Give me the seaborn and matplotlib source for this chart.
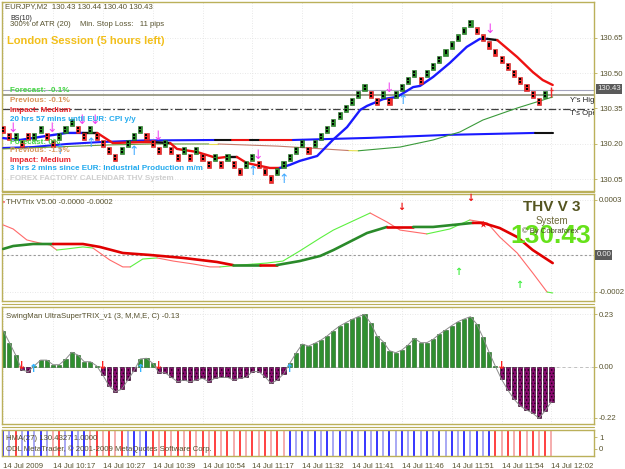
import matplotlib
matplotlib.use("Agg")
import matplotlib.pyplot as plt
import seaborn as sns
import numpy as np
from matplotlib.lines import Line2D

# ---------------- data ----------------
# price bricks (centre price of each 3-pip body) for bars 0..87, bar 88 is the forming bar
brick_mid = [
    130.26, 130.23, 130.23, 130.20, 130.23, 130.23, 130.26, 130.23, 130.20, 130.23,
    130.26, 130.29, 130.26, 130.23, 130.26, 130.23, 130.20, 130.17, 130.14, 130.17,
    130.20, 130.23, 130.26, 130.23, 130.20, 130.17, 130.20, 130.17, 130.14, 130.17,
    130.14, 130.17, 130.14, 130.11, 130.14, 130.11, 130.14, 130.11, 130.08, 130.11,
    130.14, 130.11, 130.08, 130.05, 130.08, 130.11, 130.14, 130.17, 130.20, 130.17,
    130.20, 130.23, 130.26, 130.29, 130.32, 130.35, 130.38, 130.41, 130.44, 130.41,
    130.38, 130.41, 130.38, 130.41, 130.44, 130.47, 130.50, 130.47, 130.50, 130.53,
    130.56, 130.59, 130.62, 130.65, 130.68, 130.71, 130.68, 130.65, 130.62, 130.59,
    130.56, 130.53, 130.50, 130.47, 130.44, 130.41, 130.38, 130.41]
brick_dir = list("RRGRRGGRRG" "GGRRGRRRRG" "GGGRRRGRRG" "RGRRGRGRRG" "GRRRGGGGGR"
                 "GGGGGGGGGR" "RGRGGGGRGG" "GGGGGGRRRR" "RRRRRRRG")
last_bar = 88
last_low, last_high, last_price = 130.40, 130.44, 130.43

# fast MA (bar, price, colour code of segment starting here)
fast_x = [0.0, 2.7, 5.9, 10.2, 12.8, 15.1, 17.6, 22.0, 24.0, 26.8, 27.9, 31.1, 34.3, 35.9, 37.5,
          39.1, 42.8, 44.4, 46.0, 47.6, 50.4, 52.9, 55.2, 57.3, 58.4, 61.0, 63.2, 65.8, 66.9,
          69.0, 71.7, 74.4, 76.5, 77.7, 79.3, 82.5, 85.0, 86.6, 88.2]
fast_y = [130.224, 130.216, 130.229, 130.246, 130.246, 130.246, 130.203, 130.207, 130.207,
          130.203, 130.178, 130.165, 130.139, 130.144, 130.144, 130.118, 130.097, 130.097,
          130.110, 130.127, 130.148, 130.216, 130.271, 130.344, 130.361, 130.390, 130.399,
          130.441, 130.446, 130.484, 130.544, 130.612, 130.646, 130.646, 130.641, 130.569,
          130.505, 130.471, 130.450]
fast_c = list("bbbbkrrrkrrrrkrrrbbbbbbbbbbbbbbbbkrrrrr")

slow_x = [0.0, 4.8, 10.2, 15.5, 22.4, 34.0, 36.7, 39.6, 41.2, 46.5, 58.9, 71.7, 85.4, 88.2]
slow_y = [130.182, 130.186, 130.199, 130.207, 130.214, 130.216, 130.216, 130.216, 130.216,
          130.216, 130.225, 130.238, 130.246, 130.246]
slow_c = list("bbbbbkrkrbbbkk")

thin_x = [0.0, 17.0, 24.0, 33.0, 34.5, 44.0, 49.0, 55.5, 57.0, 63.7, 69.0, 73.3, 77.0, 82.5, 88.2]
thin_y = [130.178, 130.195, 130.199, 130.199, 130.199, 130.190, 130.182, 130.171, 130.170,
          130.186, 130.216, 130.250, 130.301, 130.352, 130.399]
thin_c = list("oooypppyggggggg")

price_ticks = [130.05, 130.20, 130.35, 130.50, 130.65]
bid_price, yhigh_price, topen_price = 130.43, 130.407, 130.348

main_dn_x = [1.6, 7.8, 12.6, 14.7, 24.8, 40.9, 61.9, 78.1]
main_dn_y = [130.267, 130.267, 130.301, 130.301, 130.229, 130.148, 130.437, 130.684]
main_up_x = [9.1, 14.1, 21.0, 40.1, 45.1, 64.2]
main_up_y = [130.173, 130.203, 130.165, 130.080, 130.046, 130.386]

# THV Trix (values in units of 1e-4)
thv_thick_x = [0.0, 1.6, 4.8, 8.0, 12.8, 15.5, 19.2, 23.6, 28.9, 34.3, 36.9, 41.2, 43.9, 44.9,
               47.6, 50.9, 53.0, 58.4, 61.6, 65.8, 69.0, 75.4, 77.0, 79.7, 82.5, 85.0, 88.2]
thv_thick_y = [0.33, 0.49, 0.60, 0.60, 0.60, 0.44, 0.11, 0.00, -0.16, -0.38, -0.55, -0.55, -0.55,
               -0.49, -0.33, -0.05, 0.27, 1.20, 1.53, 1.53, 1.53, 1.75, 1.75, 1.47, 0.98, 0.27, -0.44]
thv_thick_c = list("gggrrrrrrrgrggggggrggrrrrrr")
thv_thin_x = [0.0, 1.6, 3.8, 5.9, 7.5, 8.6, 10.2, 12.8, 14.4, 17.1, 19.2, 20.4, 22.4, 24.7, 27.3,
              30.5, 33.2, 34.8, 38.0, 42.3, 44.9, 47.6, 50.9, 53.0, 58.9, 61.6, 63.7, 68.0, 71.7,
              74.9, 77.7, 79.7, 82.5, 85.0, 87.3, 88.2]
thv_thin_y = [1.64, 1.42, 0.82, 0.65, 0.55, 0.27, 0.33, 0.44, 0.38, -0.27, -0.65, -0.65, -0.22,
              -0.16, -0.33, -0.49, -0.65, -0.65, -0.55, -0.44, -0.33, 0.22, 0.93, 1.36, 2.29,
              1.80, 1.36, 1.15, 1.42, 1.91, 1.75, 0.98, 0.11, -0.98, -2.02, -2.07]
thv_thin_c = list("rrrrrgggrrrggrrrrgggggggrrrggrrrrrgg")
thv_dn_x, thv_dn_y = [63.9, 74.9], [2.62, 3.10]
thv_up_x, thv_up_y = [73.0, 82.9], [-0.93, -1.64]
thv_star_x, thv_star_y = [77.0], [1.69]

# SwingMan UltraSuperTRIX histogram
swing_vals = [
    0.158, 0.106, 0.052, -0.013, -0.020, 0.005, 0.030, 0.030, 0.010, 0.010,
    0.033, 0.064, 0.052, 0.023, 0.023, 0.005, -0.035, -0.083, -0.107, -0.097,
    -0.057, -0.016, 0.035, 0.038, 0.016, -0.025, -0.025, -0.045, -0.064, -0.057,
    -0.064, -0.057, -0.049, -0.064, -0.049, -0.045, -0.045, -0.057, -0.049, -0.045,
    -0.020, -0.020, -0.042, -0.071, -0.057, -0.030, 0.016, 0.060, 0.100, 0.091,
    0.103, 0.117, 0.135, 0.158, 0.178, 0.193, 0.207, 0.219, 0.229, 0.190,
    0.135, 0.110, 0.071, 0.062, 0.074, 0.096, 0.125, 0.106, 0.106, 0.120,
    0.143, 0.161, 0.180, 0.197, 0.209, 0.219, 0.187, 0.129, 0.064, 0.003,
    -0.054, -0.100, -0.140, -0.170, -0.187, -0.201, -0.223, -0.190, -0.151]
sw_dn_x = [2.9, 16.0, 25.0, 80.0]
sw_up_x = [4.9, 22.0, 46.0]

# HMA colour strip
strip_codes = list("BbRbBbBbrR" "bBbBrRrRrR" "bBbBRrRrRr" "RrRrRrRrRr" "RrRrRrBbBb"
                   "BbBbBbBbBb" "BbBbBbBbBb" "BbBbBbBbBR" "rRrRrRrRr")

xtick_labels = ["14 Jul 2009", "14 Jul 10:17", "14 Jul 10:27", "14 Jul 10:39", "14 Jul 10:54",
                "14 Jul 11:17", "14 Jul 11:32", "14 Jul 11:41", "14 Jul 11:46", "14 Jul 11:51",
                "14 Jul 11:54", "14 Jul 12:02"]

# ---------------- style ----------------
sns.set_style("white")
plt.rcParams['font.family'] = ['Liberation Sans', 'DejaVu Sans']
plt.rcParams['hatch.linewidth'] = 0.7

W, H = 625, 469
fig = plt.figure(figsize=(W / 100, H / 100), dpi=100)
fig.patch.set_facecolor('white')

GOLD = '#bbb05a'
TXT = '#57522e'
GRID = '#e0e0e0'
GREEN, GREEN_E = '#2b8f2b', '#1d661d'
RED, RED_E = '#f22a2a', '#c41a1a'


def box(top, bottom, left=2, right=594):
    return [left / W, 1 - bottom / H, (right - left) / W, (bottom - top) / H]


def ptext(x, y, s, **kw):
    kw.setdefault('va', 'center')
    kw.setdefault('ha', 'left')
    return fig.text(x / W, 1 - y / H, s, **kw)


def colored_line(ax, xs, ys, codes, cmap, lw, z=3):
    n = len(xs)
    i = 0
    while i < n - 1:
        j = i
        while j + 1 < n - 1 and codes[j + 1] == codes[i]:
            j += 1
        sns.lineplot(x=xs[i:j + 2], y=ys[i:j + 2], ax=ax, color=cmap[codes[i]], lw=lw,
                     sort=False, estimator=None, legend=False, zorder=z,
                     solid_capstyle='round')
        i = j + 1


ax_main = fig.add_axes(box(2, 191))
ax_thv = fig.add_axes(box(194, 301))
ax_sw = fig.add_axes(box(307, 424))
ax_st = fig.add_axes(box(430, 456))
axes = [ax_main, ax_thv, ax_sw, ax_st]
XLIM = (-0.19, 94.83)
tick_bars = list(range(0, 89, 8))

for ax in axes:
    ax.set_facecolor('white')
    ax.set_xlim(*XLIM)
    for sp in ax.spines.values():
        sp.set_color(GOLD)
        sp.set_linewidth(1.0)
    ax.yaxis.tick_right()
    ax.tick_params(axis='y', length=2, width=0.6, pad=1.5, labelsize=5.6,
                   color=GOLD, labelcolor=TXT)
    ax.set_xticks(tick_bars)
    ax.tick_params(axis='x', length=0, labelbottom=False)
    ax.grid(True, color=GRID, ls=(0, (1, 2)), lw=0.6)
    ax.set_axisbelow(True)
    ax.set_xlabel('')
    ax.set_ylabel('')

# ---------------- main price panel ----------------
ax_main.set_ylim(129.999, 130.803)
ax_main.set_yticks(price_ticks)
ax_main.set_yticklabels([f'{v:.2f}' for v in price_ticks])
ax_main.axhline(bid_price, color='#a4a4bc', lw=0.8, zorder=1)
ax_main.axhline(yhigh_price, color='#8f8f78', lw=1.2, zorder=1)
ax_main.axhline(topen_price, color='#404040', lw=0.9, dashes=(6, 2, 1.5, 2), zorder=1)

colored_line(ax_main, slow_x, slow_y, slow_c, {'b': '#1a1aff', 'k': '#111111', 'r': '#ee1111'}, 1.5)
colored_line(ax_main, thin_x, thin_y, thin_c,
             {'o': '#6a9a3a', 'y': '#e8e050', 'p': '#c47a6a', 'g': '#3a9a3a'}, 0.8)
colored_line(ax_main, fast_x, fast_y, fast_c, {'b': '#1a1aff', 'k': '#111111', 'r': '#ee1111'}, 1.7)

mids = np.array(brick_mid)
bx = np.arange(len(mids))
fc = [GREEN if d == 'G' else RED for d in brick_dir]
ec = [GREEN_E if d == 'G' else RED_E for d in brick_dir]
ax_main.bar(bx, 0.03, bottom=mids - 0.015, width=0.66, color=fc, edgecolor=ec,
            linewidth=0.4, zorder=4)
sns.scatterplot(x=np.r_[bx, bx], y=np.r_[mids + 0.006, mids - 0.006], s=1.6, color='black',
                marker='s', linewidth=0, ax=ax_main, zorder=5, legend=False)
ax_main.vlines(last_bar, last_low, last_high, color=RED, lw=1.0, zorder=4)
ax_main.hlines(last_price, last_bar - 0.3, last_bar + 0.3, color=RED, lw=1.0, zorder=4)

for x, y in zip(main_dn_x, main_dn_y):
    ax_main.text(x, y, '↓', ha='center', va='center', color='#f040f0', fontsize=9,
                 family='DejaVu Sans', zorder=6)
for x, y in zip(main_up_x, main_up_y):
    ax_main.text(x, y, '↑', ha='center', va='center', color='#3fa9ff', fontsize=9,
                 family='DejaVu Sans', zorder=6)

ax_main.text(91.0, 130.386, "Y's High", fontsize=5.6, color='#222222', va='center',
             clip_on=True, zorder=6)
ax_main.text(91.0, 130.327, "T's Open", fontsize=5.6, color='#222222', va='center',
             clip_on=True, zorder=6)

ptext(597, 89, '130.43', fontsize=5.6, color='#f0f0f0',
      bbox=dict(boxstyle='square,pad=0.15', fc='#5a5a5a', ec='none'))

ptext(5, 7, 'EURJPY,M2  130.43 130.44 130.40 130.43', fontsize=5.6, color=TXT)
ptext(10, 19, 'BS(10)', fontsize=5, color='#222222')
ptext(10, 25, '300% of ATR (20)', fontsize=5.6, color=TXT)
ptext(80, 25, 'Min. Stop Loss:   11 pips', fontsize=5.6, color=TXT)
ptext(7, 41, 'London Session (5 hours left)', fontsize=8, fontweight='bold', color='#f2bf1a')

cal = [(90, 'Forecast: -0.1%', '#44d444'),
       (100, 'Previous: -0.1%', '#d9955a'),
       (110, 'Impact: Medium', '#e8242c'),
       (119, '20 hrs 57 mins until EUR: CPI y/y', '#22aaee'),
       (142, 'Forecast: 0%', '#44d444'),
       (151, 'Previous: -1.5%', '#d9955a'),
       (160, 'Impact: Medium', '#e8242c'),
       (169, '3 hrs 2 mins since EUR: Industrial Production m/m', '#22aaee'),
       (178, 'FOREX FACTORY CALENDAR THV System', '#cfcfcf')]
for y, s, c in cal:
    ptext(10, y, s, fontsize=5.8, fontweight='bold', color=c, zorder=7)

# ---------------- THV Trix panel ----------------
ax_thv.set_ylim(-2.509, 3.327)
ax_thv.set_yticks([3, 0, -2])
ax_thv.set_yticklabels(['0.0003', '', '-0.0002'])
ax_thv.axhline(0, color='#9a9a9a', lw=0.8, ls=(0, (2, 2)), zorder=1)
colored_line(ax_thv, thv_thin_x, thv_thin_y, thv_thin_c, {'g': '#5cf040', 'r': '#ff6a6a'}, 0.8)
colored_line(ax_thv, thv_thick_x, thv_thick_y, thv_thick_c, {'g': '#2a8a2a', 'r': '#e00000'}, 1.9, z=4)
for x, y in zip(thv_dn_x, thv_dn_y):
    ax_thv.text(x, y, '↓', ha='center', va='center', color='#ee1111', fontsize=7,
                fontweight='bold', family='DejaVu Sans', zorder=6)
for x, y in zip(thv_up_x, thv_up_y):
    ax_thv.text(x, y, '↑', ha='center', va='center', color='#44ee44', fontsize=7,
                fontweight='bold', family='DejaVu Sans', zorder=6)
sns.scatterplot(x=thv_star_x, y=thv_star_y, marker='*', s=30, color='#ee1111', linewidth=0,
                ax=ax_thv, zorder=6, legend=False)
ax_thv.text(1.004, 0, '0.00', transform=ax_thv.get_yaxis_transform(), fontsize=5.6,
            color='#f0f0f0', va='center', ha='left', clip_on=False,
            bbox=dict(boxstyle='square,pad=0.15', fc='#5a5a5a', ec='none'))

ptext(6, 203, 'THVTrix V5.00 -0.0000 -0.0002', fontsize=5.6, color=TXT)
ptext(3, 204, "'", fontsize=6, color='#ee1111', fontweight='bold')
ptext(552, 207, 'THV V 3', fontsize=11, fontweight='bold', color='#545420', ha='center')
ptext(552, 221, 'System', fontsize=7, color='#6e6a3c', ha='center')
ptext(551, 236, '130.43', fontsize=19, fontweight='bold', color='#66e21a', ha='center', zorder=8)
ptext(550, 231, '© By Cobraforex', fontsize=5.5, color='#4a4a28', ha='center', zorder=9)

# ---------------- SwingMan panel ----------------
ax_sw.set_ylim(-0.248, 0.261)
ax_sw.set_yticks([0.23, 0.0, -0.22])
ax_sw.set_yticklabels(['0.23', '0.00', '-0.22'])
ax_sw.axhline(0, color='#c0c0c0', lw=0.7, ls=(0, (3, 3)), zorder=1)
sw = np.array(swing_vals)
sx = np.arange(len(sw))
bars = ax_sw.bar(sx, sw, width=0.66, color=['#2f8f2f' if v >= 0 else '#8a0a70' for v in sw],
                 edgecolor=['#1f5f1f' if v >= 0 else '#200018' for v in sw], linewidth=0.4, zorder=2)
for b, v in zip(bars, sw):
    if v < 0:
        b.set_hatch('.....')
sns.lineplot(x=sx, y=sw, ax=ax_sw, color='#8c8c8c', lw=0.7, sort=False, estimator=None,
             legend=False, zorder=3)
for x in sw_dn_x:
    ax_sw.text(x, 0.004, '↓', ha='center', va='center', color='#ff2020', fontsize=8,
               fontweight='bold', family='DejaVu Sans', zorder=6)
for x in sw_up_x:
    ax_sw.text(x, -0.009, '↑', ha='center', va='center', color='#33b4ff', fontsize=8,
               fontweight='bold', family='DejaVu Sans', zorder=6)
ptext(6, 316, 'SwingMan UltraSuperTRIX_v1 (3, M,M,E, C) -0.13', fontsize=5.6, color=TXT)

# ---------------- HMA strip ----------------
ax_st.grid(False)
ax_st.set_ylim(-0.61, 1.65)
ax_st.set_yticks([1, 0])
ax_st.set_yticklabels(['1', '0'])
cmap_strip = {'B': '#1414ff', 'b': '#9a9af2', 'R': '#ff2020', 'r': '#f4a0a0'}
ax_st.vlines(np.arange(len(strip_codes)), -1, 2, colors=[cmap_strip[c] for c in strip_codes],
             lw=1.2, zorder=2)
ptext(6, 438, 'HMA(27) 130.4327 1.0000', fontsize=5.6, color=TXT, zorder=7)
ptext(6, 449, 'ODL MetaTrader, © 2001-2009 MetaQuotes Software Corp.', fontsize=5.6,
      color=TXT, zorder=7)
ax_st.tick_params(axis='x', length=3, width=0.6, color=TXT, labelbottom=True,
                  labelsize=5.6, labelcolor=TXT, pad=2)
ax_st.set_xticklabels(xtick_labels, ha='left')

# ---------------- panel separators ----------------
for y in (192.5, 304.0, 427.0):
    fig.add_artist(Line2D([2 / W, 594 / W], [1 - y / H] * 2, color=GOLD, lw=0.8))

fig.savefig('out.png', dpi=100, facecolor='white')
